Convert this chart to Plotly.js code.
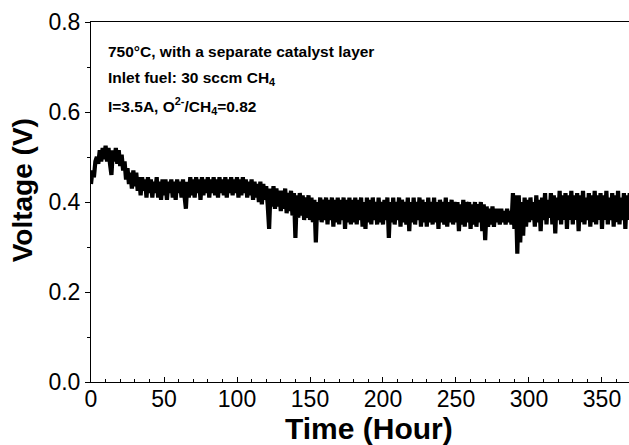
<!DOCTYPE html>
<html>
<head>
<meta charset="utf-8">
<script src="https://cdn.plot.ly/plotly-3.0.1.min.js"></script>
<style>html,body{margin:0;padding:0;background:#fff;}#chart{width:629px;height:445px;}</style>
</head>
<body>
<div id="chart"></div>
<script>
// Voltage (V), one reading per hour starting at t = 0 h
const voltage = [
0.44,0.47,0.455,0.49,0.50,0.485,0.515,0.49,0.52,0.495,
0.525,0.49,0.52,0.485,0.46,0.515,0.49,0.52,0.485,0.515,
0.48,0.505,0.47,0.49,0.45,0.475,0.44,0.465,0.43,0.47,
0.435,0.465,0.425,0.455,0.415,0.455,0.425,0.45,0.41,0.455,
0.42,0.45,0.41,0.445,0.42,0.455,0.41,0.445,0.405,0.45,
0.415,0.45,0.405,0.445,0.42,0.45,0.41,0.445,0.405,0.45,
0.42,0.445,0.41,0.45,0.415,0.385,0.445,0.41,0.455,0.415,
0.45,0.41,0.455,0.42,0.45,0.405,0.455,0.415,0.45,0.42,
0.455,0.41,0.45,0.42,0.455,0.415,0.45,0.41,0.455,0.42,
0.45,0.415,0.455,0.41,0.45,0.42,0.455,0.415,0.45,0.42,
0.455,0.41,0.45,0.415,0.455,0.42,0.45,0.41,0.445,0.415,
0.45,0.405,0.445,0.41,0.44,0.40,0.445,0.395,0.44,0.405,
0.435,0.395,0.34,0.43,0.39,0.435,0.385,0.43,0.39,0.425,
0.38,0.425,0.385,0.43,0.375,0.42,0.38,0.425,0.37,0.42,
0.32,0.415,0.365,0.42,0.37,0.415,0.36,0.41,0.365,0.415,
0.36,0.41,0.355,0.405,0.31,0.40,0.36,0.41,0.355,0.405,
0.36,0.41,0.35,0.405,0.36,0.41,0.345,0.405,0.355,0.41,
0.35,0.405,0.36,0.41,0.34,0.405,0.355,0.41,0.35,0.405,
0.355,0.41,0.35,0.405,0.36,0.41,0.345,0.40,0.34,0.41,
0.355,0.405,0.35,0.41,0.36,0.40,0.35,0.41,0.355,0.40,
0.35,0.405,0.36,0.41,0.32,0.40,0.355,0.41,0.35,0.40,
0.36,0.41,0.345,0.405,0.355,0.40,0.35,0.41,0.335,0.40,
0.355,0.41,0.35,0.40,0.36,0.41,0.345,0.405,0.355,0.40,
0.345,0.41,0.355,0.40,0.35,0.41,0.355,0.40,0.34,0.405,
0.355,0.40,0.35,0.41,0.345,0.40,0.355,0.405,0.35,0.40,
0.355,0.40,0.335,0.395,0.35,0.405,0.345,0.40,0.355,0.40,
0.34,0.395,0.35,0.40,0.345,0.395,0.355,0.40,0.335,0.395,
0.315,0.39,0.345,0.385,0.35,0.39,0.345,0.385,0.355,0.385,
0.35,0.385,0.355,0.38,0.35,0.385,0.355,0.38,0.35,0.42,
0.34,0.415,0.285,0.415,0.31,0.40,0.325,0.41,0.345,0.405,
0.355,0.41,0.36,0.40,0.345,0.415,0.355,0.405,0.335,0.41,
0.36,0.42,0.35,0.405,0.365,0.42,0.35,0.415,0.33,0.41,
0.36,0.425,0.35,0.415,0.36,0.42,0.34,0.415,0.36,0.425,
0.35,0.415,0.36,0.42,0.335,0.415,0.355,0.425,0.35,0.41,
0.36,0.42,0.345,0.415,0.355,0.425,0.35,0.415,0.36,0.42,
0.34,0.415,0.36,0.425,0.35,0.41,0.36,0.42,0.345,0.415,
0.355,0.425,0.35,0.41,0.36,0.42,0.34,0.415,0.36,0.42
];
const hours = voltage.map((v, i) => i);

const xTickVals = [0, 50, 100, 150, 200, 250, 300, 350];
const yTickVals = [0.0, 0.2, 0.4, 0.6, 0.8];
const yTickText = ["0.0", "0.2", "0.4", "0.6", "0.8"];

const xTitle = "Time (Hour)";
const yTitle = "Voltage (V)";
const noteLines = [
  "750°C, with a separate catalyst layer",
  "Inlet fuel: 30 sccm CH<sub>4</sub>",
  "I=3.5A, O<sup>2-</sup>/CH<sub>4</sub>=0.82"
];

const FONT = "Liberation Sans, Arial, sans-serif";

const trace = {
  x: hours, y: voltage, type: "scatter", mode: "lines",
  line: {color: "#000", width: 4.2, simplify: false},
  hoverinfo: "skip"
};

const annotations = [
  {xref: "paper", yref: "paper", x: 0.517, y: -0.128, xanchor: "center", yanchor: "middle",
   text: "<b>" + xTitle + "</b>", showarrow: false, font: {family: FONT, size: 30, color: "#000"}},
  {xref: "paper", yref: "paper", x: -0.128, y: 0.533, xanchor: "center", yanchor: "middle",
   textangle: -90, text: "<b>" + yTitle + "</b>", showarrow: false, font: {family: FONT, size: 28, color: "#000"}}
];
const noteY = [0.919, 0.842, 0.767];
noteLines.forEach((t, i) => annotations.push({
  xref: "paper", yref: "paper", x: 0.027, y: noteY[i], xanchor: "left", yanchor: "middle",
  text: "<b>" + t + "</b>", showarrow: false, font: {family: FONT, size: 15.5, color: "#000"}
}));

const layout = {
  width: 629, height: 445,
  margin: {l: 91, r: 0, t: 22, b: 63, pad: 0},
  paper_bgcolor: "#fff", plot_bgcolor: "#fff",
  showlegend: false,
  font: {family: FONT, color: "#000"},
  xaxis: {
    range: [0, 368.5], tickvals: xTickVals, ticks: "inside", ticklen: 5, tickwidth: 1,
    tickcolor: "#000", showline: true, linecolor: "#000", linewidth: 1, mirror: true,
    showgrid: false, zeroline: false, tickfont: {family: FONT, size: 23, color: "#000"},
    ticklabelstandoff: -4,
    minor: {dtick: 10, tick0: 0, ticks: "inside", ticklen: 3, tickcolor: "#000", showgrid: false}
  },
  yaxis: {
    range: [0, 0.8], tickvals: yTickVals, ticktext: yTickText, ticks: "outside", ticklen: 5, tickwidth: 1,
    tickcolor: "#000", showline: true, linecolor: "#000", linewidth: 1, mirror: false,
    showgrid: false, zeroline: false, tickfont: {family: FONT, size: 23, color: "#000"},
    minor: {dtick: 0.1, tick0: 0, ticks: "outside", ticklen: 3, tickcolor: "#000", showgrid: false}
  },
  annotations: annotations
};

Plotly.newPlot("chart", [trace], layout, {displayModeBar: false, staticPlot: true});
</script>
</body>
</html>
